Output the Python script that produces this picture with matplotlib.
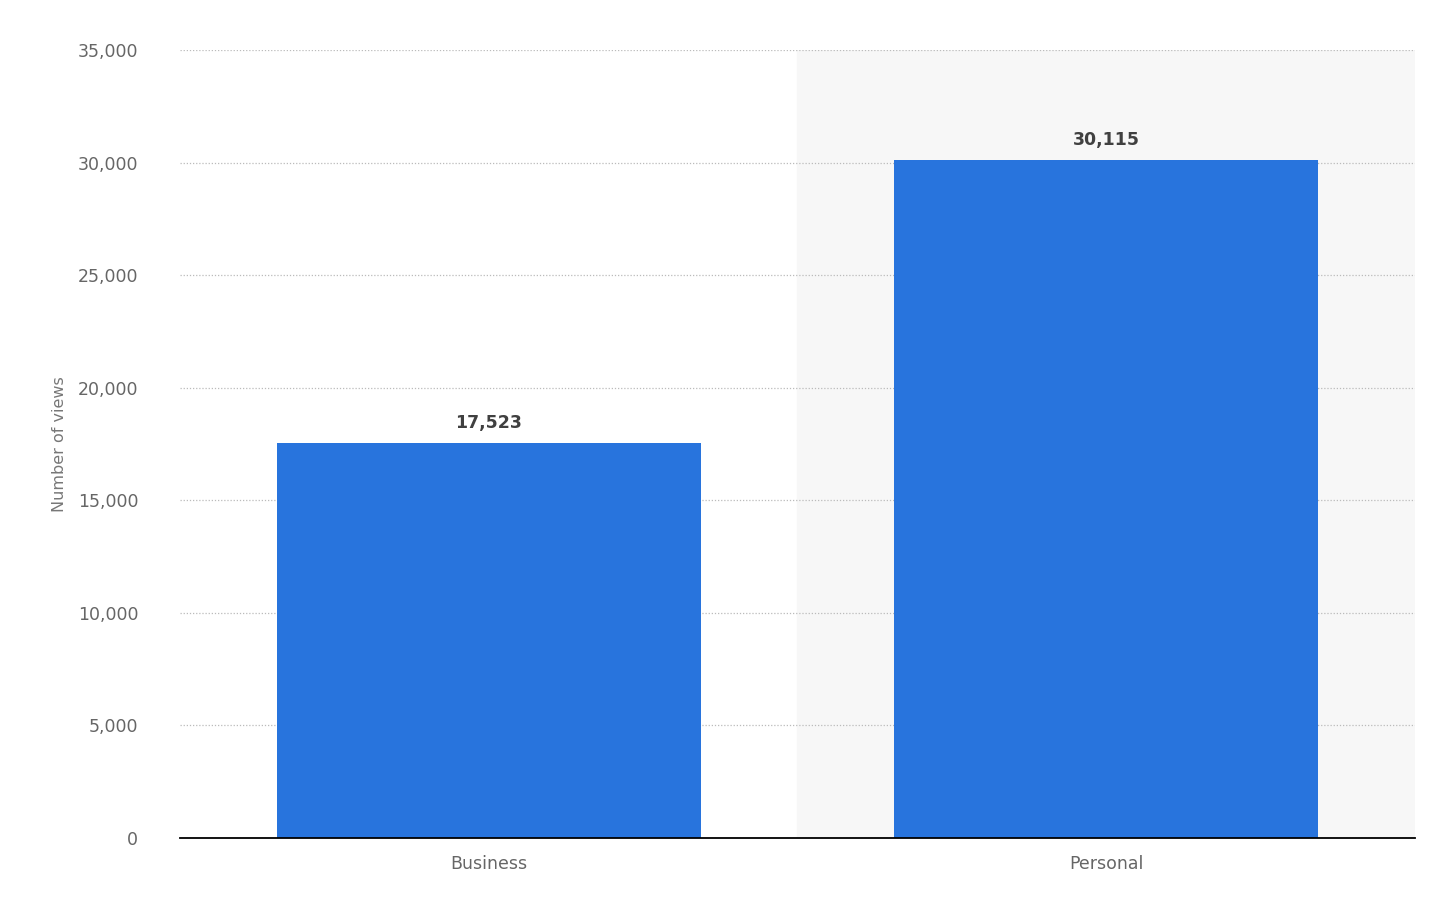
import matplotlib.pyplot as plt
from matplotlib.ticker import FuncFormatter

# data
categories = ["Business", "Personal"]
views = [17523, 30115]
yticks = [0, 5000, 10000, 15000, 20000, 25000, 30000, 35000]

fig = plt.figure(figsize=(14.42, 9.08), dpi=100)
ax = fig.add_axes([0.1248, 0.0771, 0.8565, 0.8678])

x = list(range(len(categories)))
# highlighted column background
ax.axvspan(0.5, 1.5, color="#f7f7f7", zorder=0)
bars = ax.bar(x, views, width=0.687, color="#2874dd", zorder=3)

for b, v in zip(bars, views):
    ax.text(b.get_x() + b.get_width() / 2, v + 500, f"{v:,}",
            ha="center", va="bottom", fontsize=12.5, fontweight="bold", color="#404040")

ax.set_xlim(-0.5, 1.5)
ax.set_ylim(0, 35000)
ax.set_yticks(yticks)
ax.yaxis.set_major_formatter(FuncFormatter(lambda v, p: f"{int(v):,}"))
ax.set_xticks(x)
ax.set_xticklabels(categories)
ax.grid(axis="y", linestyle=(0, (1, 1.5)), color="#bbbbbb", linewidth=0.9, zorder=1)
ax.tick_params(axis="both", length=0, labelsize=12.5, labelcolor="#666666")
ax.tick_params(axis="y", pad=30)
ax.tick_params(axis="x", pad=12)
ax.set_ylabel("Number of views", fontsize=11.5, color="#777777", labelpad=8)

for s in ["top", "right", "left"]:
    ax.spines[s].set_visible(False)
ax.spines["bottom"].set_color("#000000")
ax.spines["bottom"].set_linewidth(1.3)
ax.spines["bottom"].set_zorder(4)

fig.savefig("out.png", dpi=100)
